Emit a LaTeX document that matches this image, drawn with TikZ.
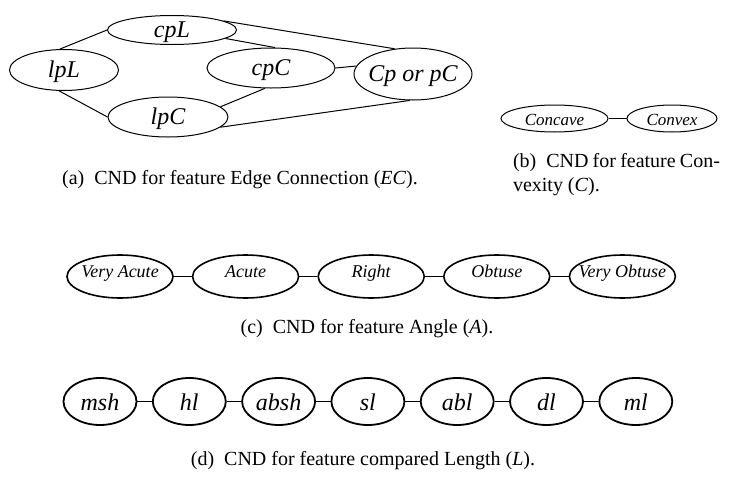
\documentclass[tikz,border=0pt]{standalone}
\usepackage{fontspec}
\setmainfont{Liberation Serif}
\usepackage{tikz}
\usetikzlibrary{positioning, shapes.geometric}

\tikzset{
  cnd/.style={draw, ellipse, inner ysep=0pt, inner xsep=-7pt, text depth=0pt},
  fonta/.style={font=\itshape\fontsize{12}{14}\selectfont, text height=7.5pt},
  fontb/.style={font=\itshape\fontsize{8.5}{10}\selectfont, text height=6.5pt},
  fontc/.style={font=\itshape\fontsize{9}{11}\selectfont, text height=1pt},
  fontd/.style={font=\itshape\fontsize{12}{14}\selectfont, text height=9pt},
  caption/.style={font=\fontsize{10}{12}\selectfont, inner sep=0pt}
}

\begin{document}
\begin{tikzpicture}[x=0.5pt, y=-0.5pt, line width=0.5pt]
		\useasboundingbox (0,0) rectangle (741,477);

		% (a) Edge Connection
		\node[cnd, fonta, minimum width=64.5pt, minimum height=14.5pt] (cpL) at (172,30) {cpL};
		\node[cnd, fonta, minimum width=54.5pt, minimum height=20.5pt] (lpL) at (64,70) {lpL};
		\node[cnd, fonta, minimum width=64pt, minimum height=20pt] (cpC) at (271,68) {cpC};
		\node[cnd, fonta, minimum width=59pt, minimum height=26pt] (CppC) at (413,74) {Cp or pC};
		\node[cnd, fonta, minimum width=60pt, minimum height=20pt] (lpC) at (168,117) {lpC};

		\draw (lpL.101) -- (cpL.180);
		\draw (lpL.257) -- (lpC.180);
		\draw (cpL.10) -- (CppC.126);
		\draw (cpL.-9) -- (cpC.79);
		\draw (cpC.0) -- (CppC.172);
		\draw (cpC.253) -- (lpC.11);
		\draw (lpC.-11) -- (CppC.263);

		\node[caption] (capa) at (240,180) {(a)\enskip CND for feature Edge Connection (\textit{EC}).};

		% (b) Convexity
		\node[cnd, fontb, minimum width=53.5pt, minimum height=13.5pt] (concave) at (554.5,118.5) {Concave};
		\node[cnd, fontb, minimum width=45pt, minimum height=13.5pt] (convex) at (672,118.5) {Convex};
		\draw (concave) -- (convex);

		\node[caption, text width=103.5pt, align=justify] (capb) at (616.5,175)
		  {(b)\enskip CND for feature Con-\linebreak vexity (\textit{C}).};

		% (c) Angle
		\begin{scope}[line width=0.8pt, node distance=9pt,
		  every node/.append style={minimum width=53pt, minimum height=21.5pt}]
		\node[cnd, fontc] (vacute) at (120,276.5) {Very Acute};
		\node[cnd, fontc, right=of vacute] (acute) {Acute};
		\node[cnd, fontc, right=of acute] (right) {Right};
		\node[cnd, fontc, right=of right] (obtuse) {Obtuse};
		\node[cnd, fontc, right=of obtuse] (vobtuse) {Very Obtuse};
		\draw (vacute) -- (acute);
		\draw (acute) -- (right);
		\draw (right) -- (obtuse);
		\draw (obtuse) -- (vobtuse);
		\end{scope}

		\node[caption] (capc) at (367,329) {(c)\enskip CND for feature Angle (\textit{A}).};

		% (d) compared Length
		\begin{scope}[line width=0.9pt, node distance=7.25pt,
		  every node/.append style={minimum width=36.5pt, minimum height=23.5pt}]
		\node[cnd, fontd] (msh) at (100,401.5) {msh};
		\node[cnd, fontd, right=of msh] (hl) {hl};
		\node[cnd, fontd, right=of hl] (absh) {absh};
		\node[cnd, fontd, right=of absh] (sl) {sl};
		\node[cnd, fontd, right=of sl] (abl) {abl};
		\node[cnd, fontd, right=of abl] (dl) {dl};
		\node[cnd, fontd, right=of dl] (ml) {ml};
		\draw (msh) -- (hl);
		\draw (hl) -- (absh);
		\draw (absh) -- (sl);
		\draw (sl) -- (abl);
		\draw (abl) -- (dl);
		\draw (dl) -- (ml);
		\end{scope}

		\node[caption] (capd) at (363,461) {(d)\enskip CND for feature compared Length (\textit{L}).};
	\end{tikzpicture}
\end{document}
